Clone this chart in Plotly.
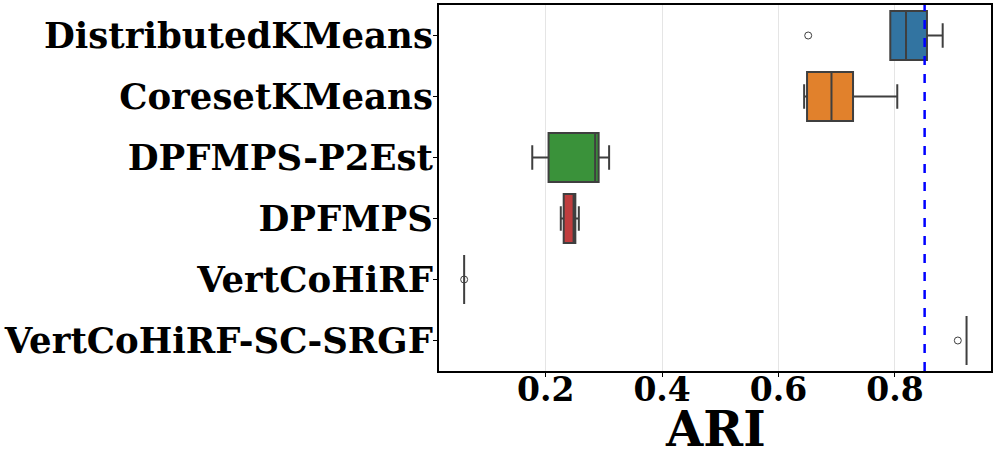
import plotly.graph_objects as go

# data (ARI per method)
methods = ["DistributedKMeans", "CoresetKMeans", "DPFMPS-P2Est",
           "DPFMPS", "VertCoHiRF", "VertCoHiRF-SC-SRGF"]
lower = [0.792, 0.644, 0.177, 0.226, 0.060, 0.923]
q1 = [0.792, 0.649, 0.205, 0.231, 0.060, 0.923]
median = [0.819, 0.691, 0.285, 0.248, 0.060, 0.923]
q3 = [0.855, 0.728, 0.291, 0.251, 0.060, 0.923]
upper = [0.882, 0.804, 0.309, 0.257, 0.060, 0.923]
colors = ["#3274a1", "#e1812c", "#3a923a", "#c03d3e", "#8c8c8c", "#9372b2"]

outlier_methods = ["DistributedKMeans", "VertCoHiRF", "VertCoHiRF-SC-SRGF"]
outlier_values = [0.651, 0.060, 0.908]

reference_ari = 0.851

font_family = "DejaVu Serif"

fig = go.Figure()
for i, m in enumerate(methods):
    fig.add_trace(go.Box(
        y=[m], q1=[q1[i]], median=[median[i]], q3=[q3[i]],
        lowerfence=[lower[i]], upperfence=[upper[i]],
        orientation="h", width=0.8, whiskerwidth=0.5,
        fillcolor=colors[i], line=dict(color="#3f3f3f", width=2),
        boxpoints=False, showlegend=False,
    ))

fig.add_trace(go.Scatter(
    x=outlier_values, y=outlier_methods, mode="markers",
    marker=dict(symbol="circle-open", size=7, color="#3f3f3f",
                line=dict(width=1, color="#3f3f3f")),
    showlegend=False,
))

fig.add_shape(type="line", xref="x", yref="paper",
              x0=reference_ari, x1=reference_ari, y0=0, y1=1,
              line=dict(color="#0000ff", width=2.5, dash="dash"))

# axis title as an annotation so it sits where the reference has it
fig.add_annotation(text="ARI", xref="paper", yref="paper", x=0.5, y=0,
                   yshift=-28, yanchor="top", showarrow=False,
                   font=dict(size=48, family=font_family, weight="bold"))

fig.update_layout(
    width=997, height=465,
    margin=dict(l=439, r=6, t=5, b=94),
    plot_bgcolor="white", paper_bgcolor="white",
    font=dict(family=font_family, color="black", weight="bold"),
)
fig.update_xaxes(
    range=[0.0168, 0.965], automargin=False,
    tickvals=[0.2, 0.4, 0.6, 0.8], ticktext=["0.2", "0.4", "0.6", "0.8"],
    tickfont=dict(size=33, family=font_family, weight="bold"),
    ticklabelstandoff=-16,
    showgrid=True, gridcolor="#e5e5e5", gridwidth=1,
    showline=True, mirror=True, linecolor="black", linewidth=2,
    ticks="outside", ticklen=4, tickcolor="black", zeroline=False,
)
fig.update_yaxes(
    categoryorder="array", categoryarray=methods,
    range=[5.5, -0.5], automargin=False,
    tickfont=dict(size=35.5, family=font_family, weight="bold"),
    ticklabelstandoff=-7,
    showgrid=False,
    showline=True, mirror=True, linecolor="black", linewidth=2,
    ticks="outside", ticklen=4, tickcolor="black",
)

# drop the browser's default page margin so the figure starts at 0,0
fig.write_html("out.html", config={"displayModeBar": False},
               post_script="document.body.style.margin='0';")
